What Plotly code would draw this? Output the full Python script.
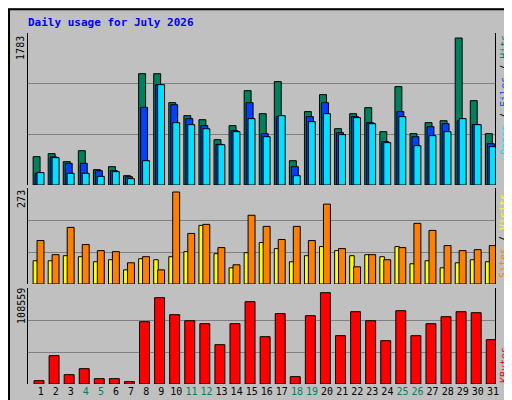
import plotly.graph_objects as go

days = list(range(1, 32))
weekend = [4, 5, 11, 12, 18, 19, 25, 26]

hits = [344, 380, 283, 416, 186, 222, 113, 1350, 1350, 999, 841, 792, 550, 720, 1144, 865,
        1254, 295, 890, 1096, 683, 865, 938, 647, 1193, 623, 756, 780, 1783, 1023, 623]
files = [142, 340, 263, 263, 174, 174, 101, 942, 1217, 974, 805, 720, 493, 659, 999, 623,
         829, 222, 829, 999, 635, 829, 756, 526, 890, 586, 708, 744, 780, 732, 501]
pages = [150, 332, 142, 142, 105, 162, 77, 295, 1217, 756, 732, 683, 489, 647, 805, 586,
         841, 113, 768, 865, 611, 817, 744, 514, 829, 477, 599, 647, 805, 732, 465]
visits = [69, 69, 84, 81, 66, 72, 42, 75, 72, 81, 96, 174, 90, 48, 93, 123,
          105, 66, 84, 111, 99, 84, 87, 81, 111, 60, 69, 48, 63, 72, 66]
sites = [129, 87, 168, 117, 99, 96, 63, 81, 42, 273, 150, 177, 108, 57, 204, 171,
         132, 171, 129, 237, 105, 51, 87, 72, 108, 180, 159, 114, 99, 102, 114]
kbytes = [3962, 33677, 11094, 18225, 6339, 6339, 2773, 74090, 102616, 82410, 75278, 71712,
          46752, 71712, 97862, 56260, 83598, 8716, 81221, 108559, 57449, 85975, 75278,
          51506, 87164, 57449, 71712, 80032, 85975, 84787, 52695]

FONT = "DejaVu Sans Mono"
line = dict(color="black", width=1)
fig = go.Figure()

def add_bars(y, color, offset, width, yaxis):
    fig.add_trace(go.Bar(x=days, y=y, marker=dict(color=color, line=line),
                         offset=offset, width=width, xaxis="x", yaxis=yaxis))

add_bars(hits, "#00805C", -0.15, 0.46, "y")
add_bars(files, "#0040FF", -0.02, 0.46, "y")
add_bars(pages, "#00E0FF", 0.11, 0.46, "y")
add_bars(visits, "#FFFF00", -0.15, 0.30, "y2")
add_bars(sites, "#FF8000", 0.11, 0.46, "y2")
add_bars(kbytes, "#FF0000", -0.09, 0.66, "y3")

x0, x1 = 20 / 512, 491 / 512
top_max = max(hits) * 152 / 147
mid_max = max(sites) * 96 / 92
bot_max = max(kbytes) * 96 / 91.3

def yax(dom, rmax):
    return dict(domain=dom, range=[0, rmax], tickvals=[rmax / 3, 2 * rmax / 3],
                showticklabels=False, ticks="", gridcolor="#808080", gridwidth=1,
                showline=True, linecolor="black", mirror=True, zeroline=False,
                anchor="x")

fig.update_layout(
    width=512, height=400, paper_bgcolor="#C0C0C0", plot_bgcolor="#C0C0C0",
    margin=dict(l=0, r=0, t=0, b=0), showlegend=False, barmode="overlay",
    font=dict(family=FONT, size=10, color="black"),
    xaxis=dict(domain=[x0, x1], range=[0.5, 31.5], anchor="y3", tickangle=0,
               tickvals=[d + 0.35 for d in days],
               ticktext=[f"<span style='color:{'#008060' if d in weekend else 'black'}'>{d}</span>" for d in days],
               ticks="", showgrid=False, showline=False, tickfont=dict(size=10)),
    yaxis=yax([1 - 177 / 400, 1 - 25 / 400], top_max),
    yaxis2=yax([1 - 276 / 400, 1 - 180 / 400], mid_max),
    yaxis3=yax([1 - 376 / 400, 1 - 280 / 400], bot_max),
)

anns = [
    dict(x=18, y=15, text="<b>Daily usage for July 2026</b>", xanchor="left",
         font=dict(color="#0000FF", size=11)),
    dict(x=13, y=40, text="1783", textangle=-90),
    dict(x=13, y=191, text="273", textangle=-90),
    dict(x=13, y=298, text="108559", textangle=-90),
    dict(x=500, y=87, textangle=-90,
         text="<span style='color:#00E0FF'>Pages</span> / <span style='color:#0040FF'>Files</span> / <span style='color:#00805C'>Hits</span>"),
    dict(x=500, y=228, textangle=-90,
         text="<span style='color:#FF8000'>Sites</span> / <span style='color:#FFFF00'>Visits</span>"),
    dict(x=500, y=357, textangle=-90,
         text="<span style='color:#FF0000'>KBytes</span>"),
]
for a in anns:
    a.setdefault("xanchor", "center")
    fig.add_annotation(xref="paper", yref="paper", x=a.pop("x") / 512, y=1 - a.pop("y") / 400,
                       yanchor="middle", showarrow=False, **a)

fig.add_shape(type="rect", xref="paper", yref="paper", x0=0.002, y0=0.003, x1=0.998, y1=0.997,
              line=dict(color="black", width=2))
fig.add_shape(type="rect", xref="paper", yref="paper", x0=508 / 512, y0=0.003, x1=0.998, y1=0.99,
              line=dict(width=0), fillcolor="#808080")
fig.add_shape(type="rect", xref="paper", yref="paper", x0=0.01, y0=0.003, x1=0.998, y1=4 / 400,
              line=dict(width=0), fillcolor="#808080")

fig.write_html("out.html")
